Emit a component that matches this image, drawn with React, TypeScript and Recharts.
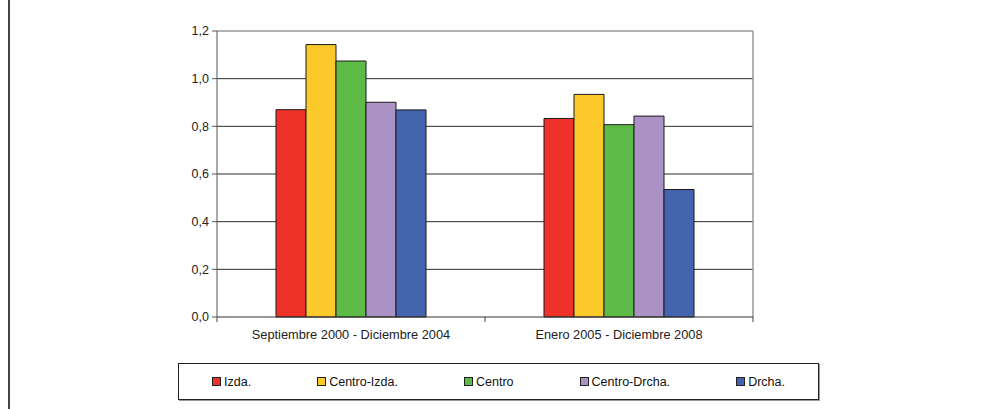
import { BarChart, Bar, XAxis, YAxis, CartesianGrid } from "recharts";

const categories = ["Septiembre 2000 - Diciembre 2004", "Enero 2005 - Diciembre 2008"];
const izda = [0.87, 0.833];
const centroIzda = [1.143, 0.934];
const centro = [1.074, 0.807];
const centroDrcha = [0.901, 0.843];
const drcha = [0.869, 0.535];
const yTicks = [0, 0.2, 0.4, 0.6, 0.8, 1.0, 1.2];

const SERIES = [
  { key: "izda", name: "Izda.", color: "#ee3129", values: izda },
  { key: "centroIzda", name: "Centro-Izda.", color: "#fcc92a", values: centroIzda },
  { key: "centro", name: "Centro", color: "#5fbb47", values: centro },
  { key: "centroDrcha", name: "Centro-Drcha.", color: "#ab92c5", values: centroDrcha },
  { key: "drcha", name: "Drcha.", color: "#4465ae", values: drcha },
];

const data = categories.map((cat, i) => {
  const row: Record<string, any> = { cat };
  SERIES.forEach((s) => (row[s.key] = s.values[i]));
  return row;
});

const FONT = "'Liberation Sans', Arial, sans-serif";
const TICK_MARGIN = 13;

function CatTick({ x, y, payload, index }: any) {
  const off = payload?.offset ?? 0;
  const axisY = y - TICK_MARGIN;
  return (
    <g>
      {off > 0 && index === 0 && (
        <line x1={x - off} x2={x - off} y1={axisY} y2={axisY + 5} stroke="#444" />
      )}
      {off > 0 && (
        <line x1={x + off} x2={x + off} y1={axisY} y2={axisY + 5} stroke="#444" />
      )}
      <text x={x} y={y} dy="0.71em" textAnchor="middle" fill="#222" fontSize={12.8} fontFamily={FONT}>
        {payload.value}
      </text>
    </g>
  );
}

export default function App() {
  return (
    <div style={{ position: "absolute", left: 0, top: 0, width: 989, height: 409, background: "#fff", fontFamily: FONT }}>
      {/* left frame line */}
      <div style={{ position: "absolute", left: 8, top: 0, width: 2, height: 409, background: "#444" }} />

      <BarChart
        width={989}
        height={409}
        data={data}
        margin={{ top: 31, right: 236, bottom: 62, left: 0 }}
        barGap={0}
        barSize={30}
      >
        <CartesianGrid
          vertical={false}
          horizontalValues={[0.2, 0.4, 0.6, 0.8, 1.0]}
          stroke="#2a2a2a"
          strokeWidth={1}
        />
        <CartesianGrid
          horizontalValues={[1.2]}
          verticalCoordinatesGenerator={({ offset }: any) => [offset.left + offset.width]}
          stroke="#999"
          strokeWidth={1.5}
        />
        <XAxis
          dataKey="cat"
          tickSize={0}
          tickMargin={TICK_MARGIN}
          tickLine={false}
          axisLine={{ stroke: "#333" }}
          tick={<CatTick />}
          interval={0}
        />
        <YAxis
          width={217}
          domain={[0, 1.2]}
          ticks={yTicks}
          tickFormatter={(v: number) => v.toFixed(1).replace(".", ",")}
          tick={{ fill: "#222", fontSize: 12.5, fontFamily: FONT }}
          tickSize={5}
          tickMargin={3}
          tickLine={{ stroke: "#555" }}
          axisLine={{ stroke: "#555" }}
        />
        {SERIES.map((s) => (
          <Bar
            key={s.key}
            dataKey={s.key}
            name={s.name}
            fill={s.color}
            stroke="#1a1a1a"
            strokeWidth={1}
            isAnimationActive={false}
          />
        ))}
      </BarChart>

      {/* legend */}
      <div
        style={{
          position: "absolute",
          left: 178,
          top: 363,
          width: 641,
          height: 37,
          boxSizing: "border-box",
          border: "1px solid #222",
          boxShadow: "1px 1px 0 #999",
          display: "flex",
          alignItems: "center",
          justifyContent: "space-around",
        }}
      >
        {SERIES.map((s) => (
          <div key={s.key} style={{ display: "flex", alignItems: "center", fontSize: 12.5, color: "#111" }}>
            <span
              style={{
                display: "inline-block",
                width: 7,
                height: 7,
                background: s.color,
                border: "1px solid #222",
                marginRight: 3,
              }}
            />
            <span>{s.name}</span>
          </div>
        ))}
      </div>
    </div>
  );
}
